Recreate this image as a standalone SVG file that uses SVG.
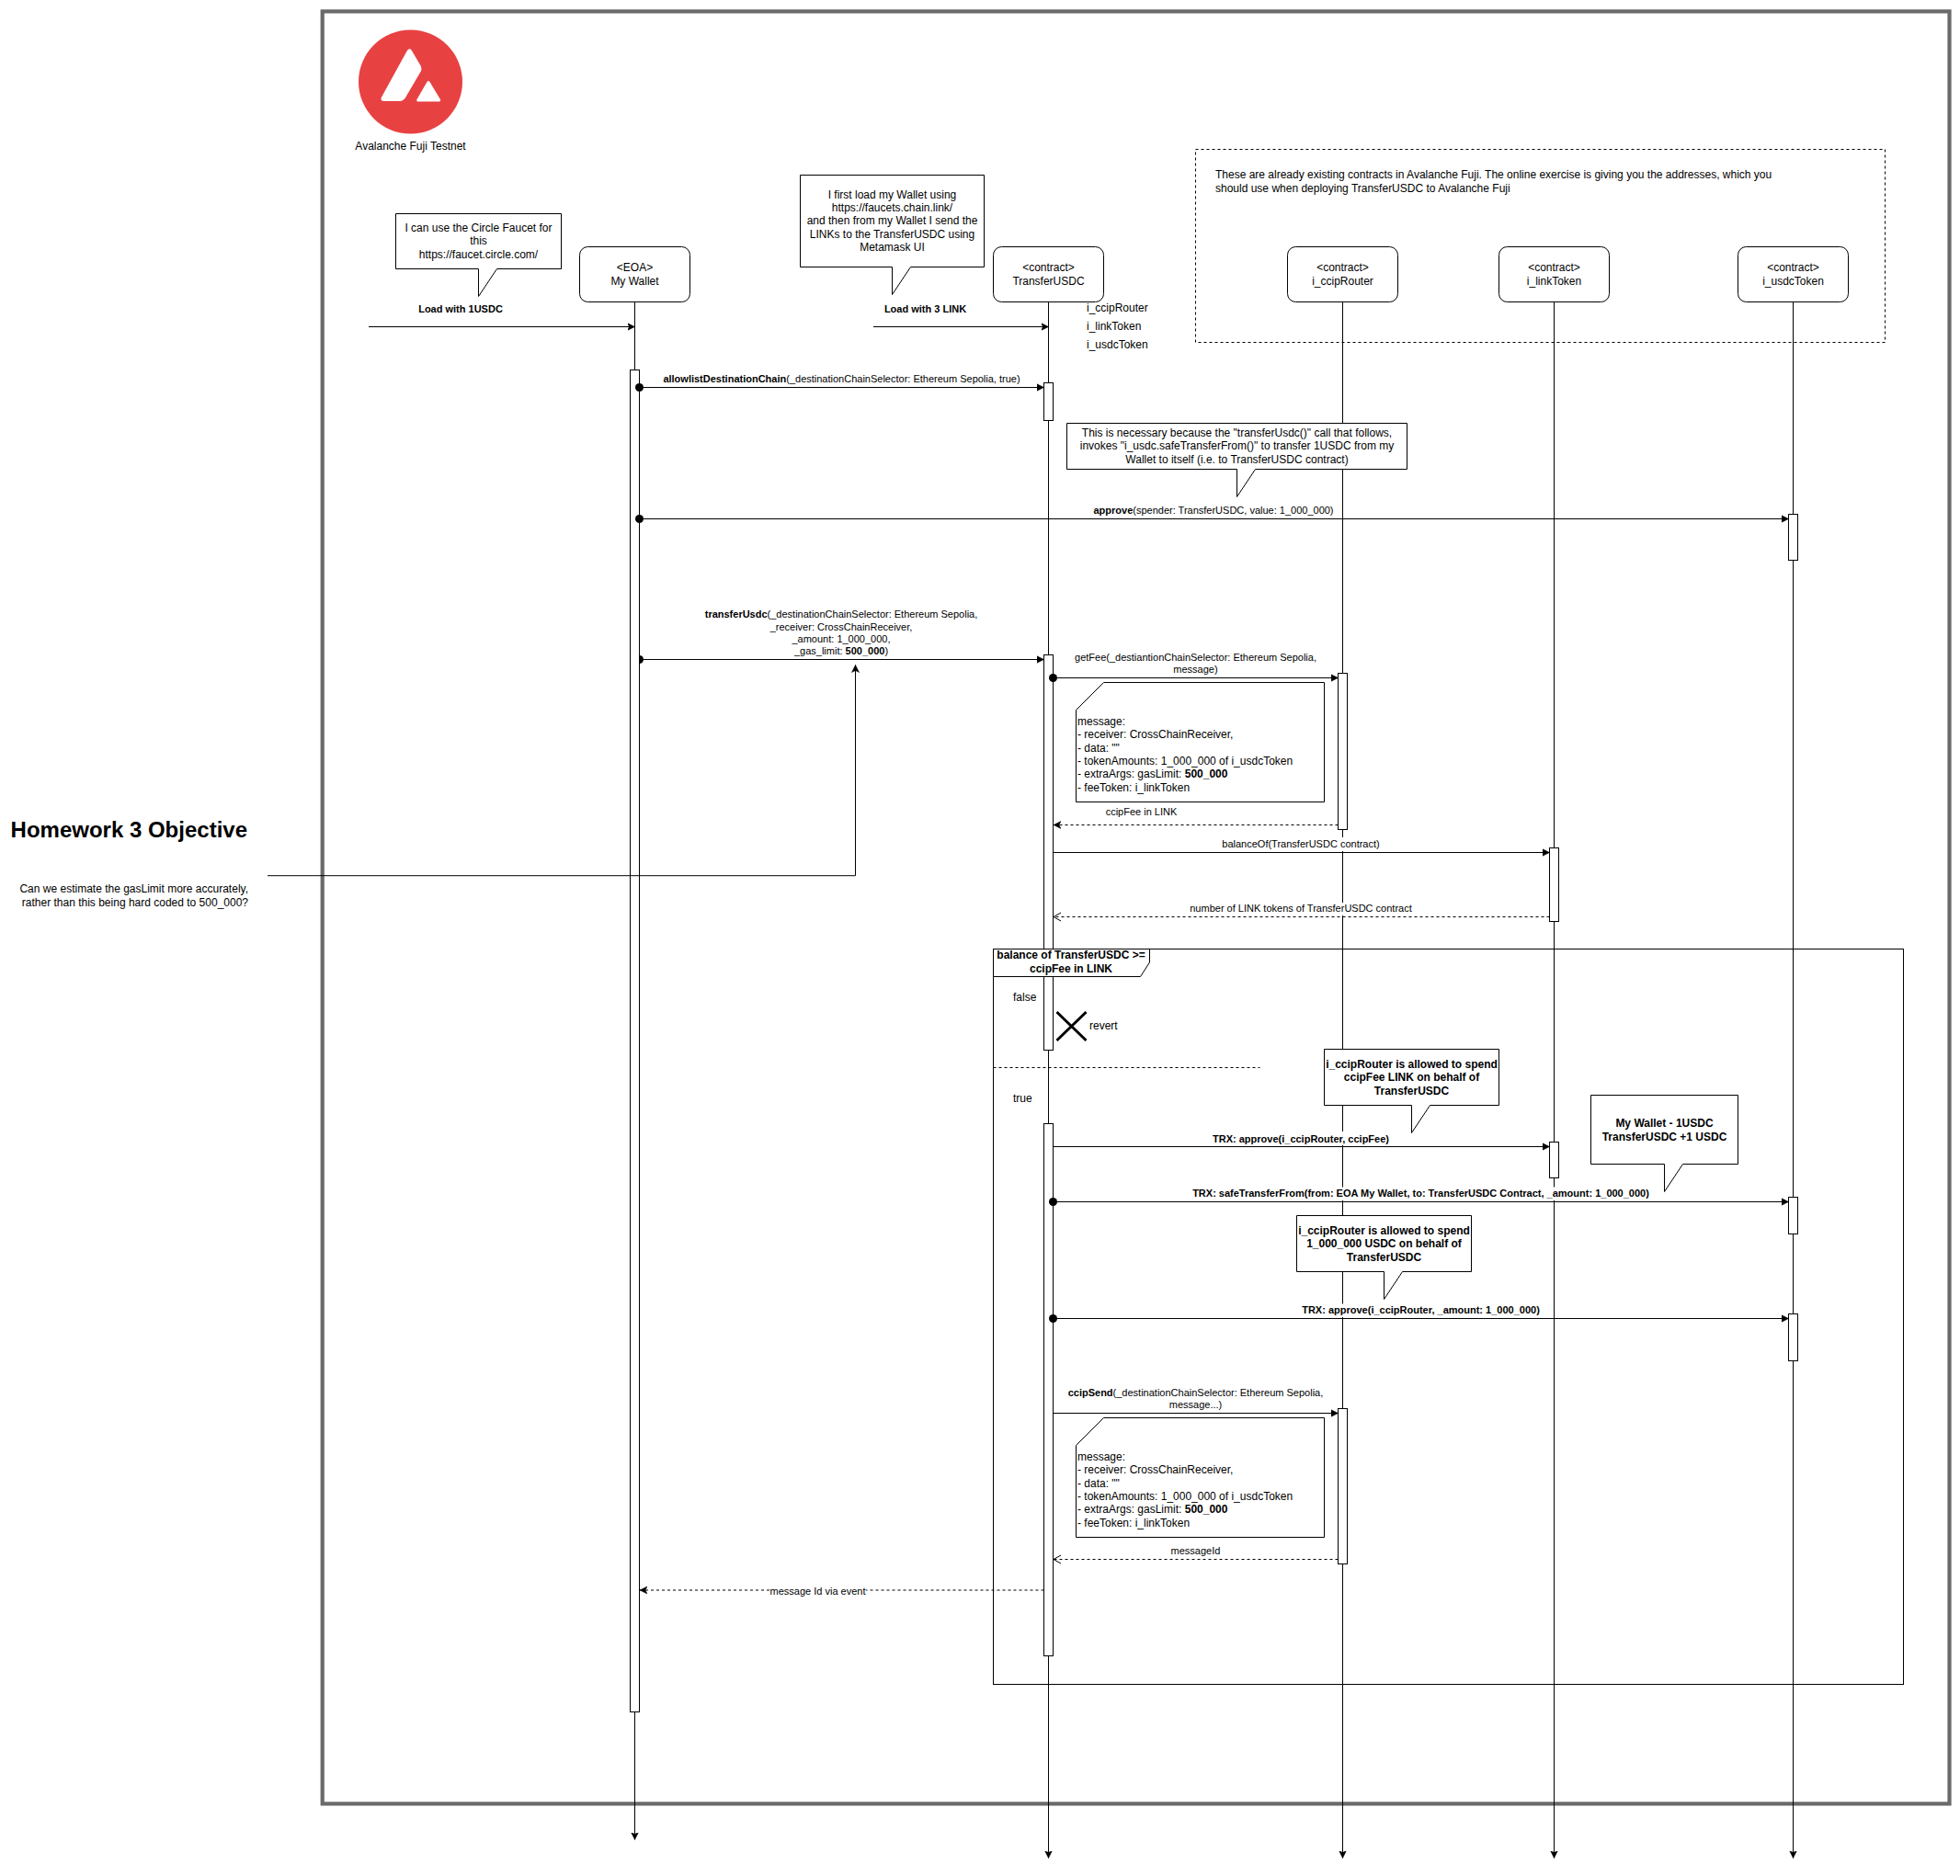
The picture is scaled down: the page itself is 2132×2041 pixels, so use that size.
<svg xmlns="http://www.w3.org/2000/svg" width="2132" height="2041" viewBox="0 0 2132 2041">
<style>
text{font-family:"Liberation Sans",Arial,Helvetica,sans-serif;font-size:12px;fill:#000}
.m{text-anchor:middle}
.e{text-anchor:end}
.s{font-size:11px}
.b{font-weight:bold}
.box{fill:#fff;stroke:#000;stroke-width:1}
.line{fill:none;stroke:#000;stroke-width:1}
.dash{fill:none;stroke:#000;stroke-width:1;stroke-dasharray:3 3}
.msg{marker-end:url(#block)}
.dot{marker-start:url(#oval)}
</style>
<defs>
<marker id="block" markerUnits="userSpaceOnUse" markerWidth="10" markerHeight="10" refX="8" refY="5" orient="auto"><path d="M0 1L8 5L0 9Z" fill="#000" stroke="#000" stroke-width="0.5"/></marker>
<marker id="classic" markerUnits="userSpaceOnUse" markerWidth="10" markerHeight="10" refX="8" refY="5" orient="auto"><path d="M0 1L8 5L0 9L2 5Z" fill="#000" stroke="#000" stroke-width="0.5"/></marker>
<marker id="open" markerUnits="userSpaceOnUse" markerWidth="12" markerHeight="12" refX="11" refY="6" orient="auto"><path d="M3 1.5L11 6L3 10.500" fill="none" stroke="#000" stroke-width="1"/></marker>
<marker id="oval" markerUnits="userSpaceOnUse" markerWidth="10" markerHeight="10" refX="5" refY="5" orient="auto"><circle cx="5" cy="5" r="4.5" fill="#000"/></marker>
<marker id="half-oval" markerUnits="userSpaceOnUse" markerWidth="10" markerHeight="10" refX="5" refY="5" orient="auto"><path d="M5 0.5A4.500 4.500 0 0 1 5 9.500Z" fill="#000"/></marker>
</defs>
<rect width="2132" height="2041" fill="#fff"/>
<g id="outer-frame"><rect x="350.7" y="12.4" width="1769.8" height="1950" fill="none" stroke="#6a6a6a" stroke-width="4.2"/></g>
<g id="avalanche-logo">
<circle cx="446.5" cy="89" r="56.5" fill="#e84142"/>
<path d="M446.700 55L457 72.5Q458 75 457 77L440 106Q438 109 435 109H417Q414.500 109 416 106L443.500 56Q445.500 53 446.700 55Z" fill="#fff" stroke="#fff" stroke-width="2" stroke-linejoin="round"/>
<path d="M466 89.5L477.700 109H454.700Z" fill="#fff" stroke="#fff" stroke-width="3" stroke-linejoin="round"/>
<text class="m" x="446.5" y="163">Avalanche Fuji Testnet</text>
</g>
<g id="existing-contracts-note">
<rect x="1300.5" y="162.5" width="750" height="210" class="dash" style="fill:none"/>
<text x="1322" y="194">These are already existing contracts in Avalanche Fuji. The online exercise is giving you the addresses, which you</text>
<text x="1322" y="209">should use when deploying TransferUSDC to Avalanche Fuji</text>
</g>
<g id="objective">
<text class="e b" style="font-size:24px" x="269" y="911">Homework 3 Objective</text>
<text class="e" x="270" y="971">Can we estimate the gasLimit more accurately,</text>
<text class="e" x="270" y="986">rather than this being hard coded to 500_000?</text>
</g>
<g id="wallet"><rect class="box" x="630.5" y="268.5" width="120" height="60" rx="9"/><text class="m" x="690.5" y="295">&lt;EOA&gt;</text><text class="m" x="690.5" y="310">My Wallet</text></g>
<g id="transferusdc"><rect class="box" x="1080.5" y="268.5" width="120" height="60" rx="9"/><text class="m" x="1140.5" y="295">&lt;contract&gt;</text><text class="m" x="1140.5" y="310">TransferUSDC</text>
<text x="1182" y="339">i_ccipRouter</text><text x="1182" y="359">i_linkToken</text><text x="1182" y="379">i_usdcToken</text></g>
<g id="ccip-router"><rect class="box" x="1400.5" y="268.5" width="120" height="60" rx="9"/><text class="m" x="1460.5" y="295">&lt;contract&gt;</text><text class="m" x="1460.5" y="310">i_ccipRouter</text></g>
<g id="link-token"><rect class="box" x="1630.5" y="268.5" width="120" height="60" rx="9"/><text class="m" x="1690.5" y="295">&lt;contract&gt;</text><text class="m" x="1690.5" y="310">i_linkToken</text></g>
<g id="usdc-token"><rect class="box" x="1890.5" y="268.5" width="120" height="60" rx="9"/><text class="m" x="1950.5" y="295">&lt;contract&gt;</text><text class="m" x="1950.5" y="310">i_usdcToken</text></g>
<g id="activations">
<rect class="box" x="685.5" y="402.5" width="10" height="1460"/>
<rect class="box" x="1135.5" y="416.5" width="10" height="41"/>
<rect class="box" x="1135.5" y="712.5" width="10" height="430"/>
<rect class="box" x="1135.5" y="1222.5" width="10" height="579"/>
<rect class="box" x="1455.5" y="732.5" width="10" height="170"/>
<rect class="box" x="1455.5" y="1532.5" width="10" height="169"/>
<rect class="box" x="1685.5" y="922.5" width="10" height="80"/>
<rect class="box" x="1685.5" y="1242.5" width="10" height="39"/>
<rect class="box" x="1945.5" y="559.5" width="10" height="50"/>
<rect class="box" x="1945.5" y="1302.5" width="10" height="40"/>
<rect class="box" x="1945.5" y="1429.5" width="10" height="51"/>
</g>
<g id="alt-frame">
<rect x="1080.5" y="1032.5" width="990" height="800" class="line"/>
<path class="box" d="M1080.5 1032.5H1250.5V1047L1240.5 1062.5H1080.5Z"/>
<text class="m b" x="1165" y="1042.5">balance of TransferUSDC &gt;=</text>
<text class="m b" x="1165" y="1057.5">ccipFee in LINK</text>
<text x="1102" y="1089">false</text>
<text x="1102" y="1199">true</text>
<path class="dash" d="M1080.5 1161.5H1370.5"/>
</g>
<g id="revert-marker">
<path d="M1149.5 1101L1181.5 1132M1181.5 1101L1149.5 1132" fill="none" stroke="#000" stroke-width="3"/>
<text x="1185" y="1120">revert</text>
</g>
<g id="callout-faucet"><path class="box" d="M430.5 232.5H610.5V292.5H540.5L520.5 322.5V292.5H430.5Z"/>
<text class="m" x="520.5" y="252">I can use the Circle Faucet for</text><text class="m" x="520.5" y="266">this</text><text class="m" x="520.5" y="281">https://faucet.circle.com/</text></g>
<g id="callout-load-wallet"><path class="box" d="M870.5 190.5H1070.5V290.5H990.5L970.5 320.5V290.5H870.5Z"/>
<text class="m" x="970.5" y="216">I first load my Wallet using</text><text class="m" x="970.5" y="230">https://faucets.chain.link/</text><text class="m" x="970.5" y="244">and then from my Wallet I send the</text><text class="m" x="970.5" y="259">LINKs to the TransferUSDC using</text><text class="m" x="970.5" y="273">Metamask UI</text></g>
<g id="callout-approve-reason"><path class="box" d="M1160.5 460.5H1530.5V510.5H1365.5L1345.5 540.5V510.5H1160.5Z"/>
<text class="m" x="1345.5" y="475">This is necessary because the "transferUsdc()" call that follows,</text><text class="m" x="1345.5" y="489">invokes "i_usdc.safeTransferFrom()" to transfer 1USDC from my</text><text class="m" x="1345.5" y="504">Wallet to itself (i.e. to TransferUSDC contract)</text></g>
<g id="note-getfee-message"><path class="box" d="M1200.5 742.5H1440.5V872.5H1170.5V772.5Z"/>
<text x="1172" y="789">message:</text><text x="1172" y="803">- receiver: CrossChainReceiver,</text><text x="1172" y="818">- data: ""</text><text x="1172" y="832">- tokenAmounts: 1_000_000 of i_usdcToken</text><text x="1172" y="846">- extraArgs: gasLimit: <tspan class="b">500_000</tspan></text><text x="1172" y="861">- feeToken: i_linkToken</text></g>
<g id="callout-link-allowance"><path class="box" d="M1440.5 1141.5H1630.5V1202.5H1555.5L1535.5 1232.5V1202.5H1440.5Z"/>
<text class="m b" x="1535.5" y="1162">i_ccipRouter is allowed to spend</text><text class="m b" x="1535.5" y="1176">ccipFee LINK on behalf of</text><text class="m b" x="1535.5" y="1191">TransferUSDC</text></g>
<g id="callout-balances"><path class="box" d="M1730.5 1191.5H1890.5V1266.5H1830.5L1810.5 1296.5V1266.5H1730.5Z"/>
<text class="m b" x="1810.5" y="1226">My Wallet - 1USDC</text><text class="m b" x="1810.5" y="1241">TransferUSDC +1 USDC</text></g>
<g id="callout-usdc-allowance"><path class="box" d="M1410.5 1322.5H1600.5V1383.500H1525.5L1505.5 1413.5V1383.500H1410.5Z"/>
<text class="m b" x="1505.5" y="1343">i_ccipRouter is allowed to spend</text><text class="m b" x="1505.5" y="1357">1_000_000 USDC on behalf of</text><text class="m b" x="1505.5" y="1372">TransferUSDC</text></g>
<g id="note-ccipsend-message"><path class="box" d="M1200.5 1542.5H1440.5V1672.5H1170.5V1572.5Z"/>
<text x="1172" y="1589">message:</text><text x="1172" y="1603">- receiver: CrossChainReceiver,</text><text x="1172" y="1618">- data: ""</text><text x="1172" y="1632">- tokenAmounts: 1_000_000 of i_usdcToken</text><text x="1172" y="1646">- extraArgs: gasLimit: <tspan class="b">500_000</tspan></text><text x="1172" y="1661">- feeToken: i_linkToken</text></g>
<g id="connectors">
<path class="line" d="M690.5 328.500V402.5"/><path class="line" marker-end="url(#classic)" d="M690.5 1862.5V2001.5"/>
<path class="line" d="M1140.5 328.500V416.5M1140.5 457.5V712.5M1140.5 1142.5V1222.5"/><path class="line" marker-end="url(#classic)" d="M1140.5 1801.5V2021.5"/>
<path class="line" d="M1460.5 328.500V460.5M1460.5 510.5V732.5M1460.5 902.5V911M1460.5 926V982M1460.5 996V1141.5M1460.5 1202.5V1231M1460.5 1246V1291.5M1460.5 1306V1322.5M1460.5 1383.500V1418.500M1460.5 1433V1532.5"/><path class="line" marker-end="url(#classic)" d="M1460.5 1701.5V2021.5"/>
<path class="line" d="M1690.5 328.500V922.5M1690.5 1002.5V1242.5M1690.5 1281.5V1291.5"/><path class="line" marker-end="url(#classic)" d="M1690.5 1306V2021.5"/>
<path class="line" d="M1950.5 328.500V559.5M1950.5 609.5V1302.5M1950.5 1342.5V1429.5"/><path class="line" marker-end="url(#classic)" d="M1950.5 1480.5V2021.5"/>
<path class="line" marker-end="url(#classic)" d="M401 355.5H690.5"/>
<text class="m b s" x="501" y="340">Load with 1USDC</text>
<path class="line" marker-end="url(#classic)" d="M950 355.5H1140.5"/>
<text class="m b s" x="1006.5" y="340">Load with 3 LINK</text>
<path class="line" marker-end="url(#classic)" d="M291 952.7H930.5V723.5"/>
<path class="line msg dot" d="M695.5 421.5H1135.5"/>
<text class="m s" x="915.5" y="416"><tspan class="b">allowlistDestinationChain</tspan>(_destinationChainSelector: Ethereum Sepolia, true)</text>
<path class="line msg dot" d="M695.5 564.5H1945.5"/>
<text class="m s" x="1320" y="559"><tspan class="b">approve</tspan>(spender: TransferUSDC, value: 1_000_000)</text>
<path class="line msg" marker-start="url(#half-oval)" d="M695.5 717.5H1135.5"/>
<text class="m s" x="915" y="672"><tspan class="b">transferUsdc</tspan>(_destinationChainSelector: Ethereum Sepolia,</text>
<text class="m s" x="915" y="685.500">_receiver: CrossChainReceiver,</text>
<text class="m s" x="915" y="699">_amount: 1_000_000,</text>
<text class="m s" x="915" y="712">_gas_limit: <tspan class="b">500_000</tspan>)</text>
<path class="line msg dot" d="M1145.5 737.5H1455.5"/>
<text class="m s" x="1300.5" y="719">getFee(_destiantionChainSelector: Ethereum Sepolia,</text>
<text class="m s" x="1300.5" y="732">message)</text>
<path class="dash" marker-end="url(#classic)" d="M1455.5 897.5H1146"/>
<text class="m s" x="1241.5" y="887">ccipFee in LINK</text>
<path class="line msg" d="M1145.5 927.5H1685.5"/>
<text class="m s" x="1415" y="922">balanceOf(TransferUSDC contract)</text>
<path class="dash" marker-end="url(#open)" d="M1685.5 997.5H1146"/>
<text class="m s" x="1415" y="992">number of LINK tokens of TransferUSDC contract</text>
<path class="line msg" d="M1145.5 1247.5H1685.5"/>
<text class="m b s" x="1415" y="1243">TRX: approve(i_ccipRouter, ccipFee)</text>
<path class="line msg dot" d="M1145.5 1307.5H1945.5"/>
<text class="m b s" x="1545.5" y="1302">TRX: safeTransferFrom(from: EOA My Wallet, to: TransferUSDC Contract, _amount: 1_000_000)</text>
<path class="line msg dot" d="M1145.5 1434.5H1945.5"/>
<text class="m b s" x="1545.5" y="1429">TRX: approve(i_ccipRouter, _amount: 1_000_000)</text>
<path class="line msg" d="M1145.5 1537.5H1455.5"/>
<text class="m s" x="1300.5" y="1519">
<tspan class="b">ccipSend</tspan>(_destinationChainSelector: Ethereum Sepolia,</text>
<text class="m s" x="1300.5" y="1532">message...)</text>
<path class="dash" marker-end="url(#open)" d="M1455.5 1696.5H1146"/>
<text class="m s" x="1300.5" y="1691">messageId</text>
<path class="dash" d="M1135.5 1730H942"/>
<path class="dash" marker-end="url(#classic)" d="M837 1730H696"/>
<text class="m s" x="889.5" y="1735">message Id via event</text>
</g>
</svg>
